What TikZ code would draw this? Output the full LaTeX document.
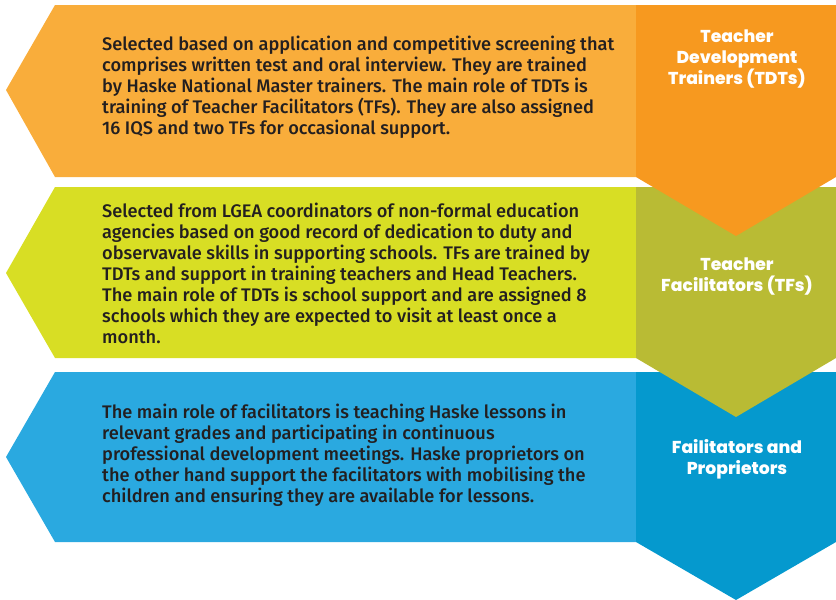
\documentclass[tikz,border=0pt]{standalone}
\usepackage{fontspec}
\setmainfont{Fira Sans}
\newfontfamily\bodyfont{Fira Sans}[UprightFont={* Medium}]
\newfontfamily\headfont{Poppins}[UprightFont={* ExtraBold}]

\definecolor{orangelight}{HTML}{F9AD3B}
\definecolor{orangedark}{HTML}{F7991F}
\definecolor{greenlight}{HTML}{D8DE24}
\definecolor{greendark}{HTML}{B9BB34}
\definecolor{bluelight}{HTML}{2AA9E0}
\definecolor{bluedark}{HTML}{0599CE}
\definecolor{textgray}{HTML}{231F20}

\tikzset{
  body/.style={anchor=west, align=left, text=textgray, inner sep=0pt,
    font=\bodyfont\fontsize{18.2}{21}\selectfont},
  head/.style={align=center, text=white, inner sep=0pt,
    font=\headfont\fontsize{17.2}{21}\selectfont},
}

\begin{document}
\begin{tikzpicture}[x=1pt, y=-1pt]
\useasboundingbox (0,0) rectangle (836,600);

% bottom row first, each chevron sits on the box below it
\fill[bluelight] (55,372) -- (636,372) -- (636,542) -- (55,542) -- (6,457) -- cycle;
\fill[bluedark] (636,372) -- (836,372) -- (836,542) -- (736,600) -- (636,542) -- cycle;
\node[body] (facbody) at (102,455) {The main role of facilitators is teaching Haske lessons in\\
relevant grades and participating in continuous\\
professional development meetings. Haske proprietors on\\
the other hand support the facilitators with mobilising the\\
children and ensuring they are available for lessons.};
\node[head] (fachead) at (737,459) {Failitators and\\ Proprietors};

\fill[greenlight] (55,187) -- (636,187) -- (636,358) -- (55,358) -- (6,273) -- cycle;
\fill[greendark] (636,187) -- (836,187) -- (836,358) -- (736,417) -- (636,358) -- cycle;
\node[body] (tfbody) at (102,273) {Selected from LGEA coordinators of non-formal education\\
agencies based on good record of dedication to duty and\\
observavale skills in supporting schools. TFs are trained by\\
TDTs and support in training teachers and Head Teachers.\\
The main role of TDTs is school support and are assigned 8\\
schools which they are expected to visit at least once a\\
month.};
\node[head] (tfhead) at (737,277) {Teacher\\ Facilitators (TFs)};

\fill[orangelight] (55,5) -- (636,5) -- (636,177) -- (55,177) -- (6,90) -- cycle;
\fill[orangedark] (636,5) -- (836,5) -- (836,177) -- (736,236) -- (636,177) -- cycle;
\node[body] (tdtbody) at (102,87) {Selected based on application and competitive screening that\\
comprises written test and oral interview. They are trained\\
by Haske National Master trainers. The main role of TDTs is\\
training of Teacher Facilitators (TFs). They are also assigned\\
16 IQS and two TFs for occasional support.};
\node[head] (tdthead) at (737,59) {Teacher\\ Development\\ Trainers (TDTs)};
\end{tikzpicture}
\end{document}
